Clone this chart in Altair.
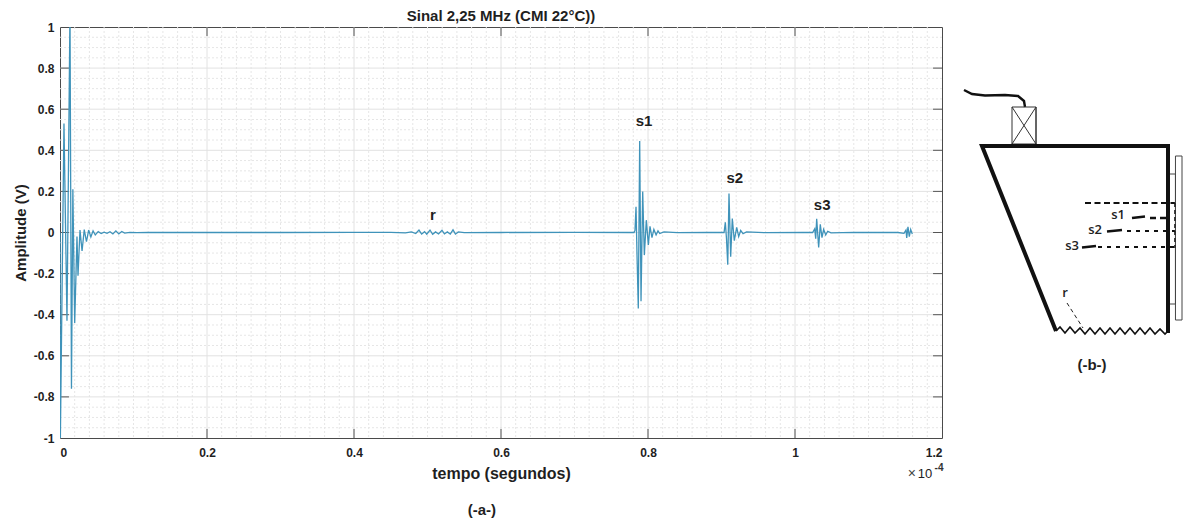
import altair as alt
import pandas as pd

FONT = "Liberation Sans"
TXT = "#1f1f1f"

# Signal: time in units of 1e-4 s, amplitude in V
t_burst = [0, 0.0005, 0.0054, 0.0095, 0.0136, 0.0156, 0.0175, 0.020, 0.0231, 0.0245, 0.0272, 0.030, 0.033, 0.036, 0.039, 0.042, 0.045, 0.048, 0.052, 0.056, 0.060, 0.064, 0.068, 0.072, 0.076, 0.080, 0.084, 0.088, 0.095, 0.105, 0.12]
a_burst = [0, -1.0, 0.53, -0.43, 1.08, -0.76, 0.21, -0.44, -0.02, -0.21, 0.012, -0.09, 0.014, -0.045, 0.012, -0.022, 0.008, -0.012, 0.004, -0.005, 0.002, -0.004, 0.004, -0.007, 0.008, -0.007, 0.005, -0.003, 0.001, -0.001, 0]
t_r = [0.30, 0.40, 0.45, 0.47, 0.478, 0.484, 0.4884, 0.492, 0.496, 0.499, 0.5034, 0.507, 0.511, 0.515, 0.5197, 0.523, 0.527, 0.531, 0.5347, 0.538, 0.542, 0.55, 0.60, 0.70, 0.775]
a_r = [0, 0.0005, 0.001, -0.002, 0.003, -0.005, 0.012, -0.008, 0.004, -0.008, 0.012, -0.009, 0.003, -0.007, 0.011, -0.007, 0.003, -0.008, 0.013, -0.008, 0.003, -0.001, 0, 0.001, 0]
t_s1 = [0.781, 0.7823, 0.7837, 0.785, 0.7868, 0.7887, 0.7905, 0.7928, 0.795, 0.7977, 0.8005, 0.8027, 0.8054, 0.808, 0.811, 0.8136, 0.816, 0.8218, 0.84, 0.88, 0.90]
a_s1 = [0, 0.01, 0.125, -0.1, -0.37, 0.445, -0.335, 0.2, -0.11, 0.06, -0.06, 0.03, -0.025, 0.015, -0.012, 0.008, -0.005, 0.003, -0.001, 0.001, 0]
t_s2 = [0.9035, 0.9052, 0.9068, 0.9085, 0.9102, 0.9125, 0.9147, 0.9174, 0.9207, 0.9234, 0.9261, 0.9293, 0.934, 0.96, 1.01, 1.024]
a_s2 = [0, 0.05, -0.03, -0.157, 0.19, -0.118, 0.068, -0.04, 0.025, -0.02, 0.01, -0.006, 0.003, -0.001, 0.001, 0]
t_s3 = [1.0268, 1.0282, 1.0295, 1.0322, 1.0344, 1.0367, 1.039, 1.0418, 1.0445, 1.049, 1.08, 1.14]
a_s3 = [0.018, -0.03, 0.067, -0.073, 0.04, -0.025, 0.015, -0.012, 0.006, -0.002, 0.001, 0]
t_end = [1.1483, 1.151, 1.152, 1.1537, 1.1555, 1.1574, 1.1596]
a_end = [-0.004, 0.012, -0.026, 0.028, -0.02, 0.015, -0.008]

signal = pd.DataFrame({
    "t": t_burst + t_r + t_s1 + t_s2 + t_s3 + t_end,
    "a": a_burst + a_r + a_s1 + a_s2 + a_s3 + a_end,
})
signal["i"] = range(len(signal))

x_major = [0, 0.2, 0.4, 0.6, 0.8, 1.0, 1.2]
y_major = [-1, -0.8, -0.6, -0.4, -0.2, 0, 0.2, 0.4, 0.6, 0.8, 1]
x_minor = [round(i * 0.02, 2) for i in range(61) if i % 10]
y_minor = [round(-1 + i * 0.05, 2) for i in range(41) if i % 4]

# Annotations in data units
note_text = ["r", "s1", "s2", "s3"]
note_x = [0.5075, 0.7946, 0.918, 1.037]
note_y = [0.086, 0.543, 0.266, 0.135]

X = alt.Scale(domain=[0, 1.2], nice=False, zero=False)
Y = alt.Scale(domain=[-1, 1], nice=False, zero=False)

def vrules(vals, color, width, dash=None):
    kw = dict(color=color, strokeWidth=width)
    if dash:
        kw["strokeDash"] = dash
    return alt.Chart(pd.DataFrame({"t": vals})).mark_rule(**kw).encode(
        x=alt.X("t:Q", scale=X)
    )

def hrules(vals, color, width, dash=None):
    kw = dict(color=color, strokeWidth=width)
    if dash:
        kw["strokeDash"] = dash
    return alt.Chart(pd.DataFrame({"a": vals})).mark_rule(**kw).encode(
        y=alt.Y("a:Q", scale=Y)
    )

axes = alt.Chart(pd.DataFrame({"t": [0], "a": [0]})).mark_point(opacity=0).encode(
    x=alt.X("t:Q", scale=X, title="tempo (segundos)",
            axis=alt.Axis(values=x_major, grid=False, ticks=False, domain=False,
                          labelExpr="'' + datum.value", labelFont=FONT, labelFontWeight="bold",
                          labelFontSize=12, labelColor=TXT, labelPadding=9,
                          titleFont=FONT, titleFontWeight="bold", titleFontSize=16,
                          titleColor=TXT, titlePadding=7)),
    y=alt.Y("a:Q", scale=Y, title="Amplitude (V)",
            axis=alt.Axis(values=y_major, grid=False, ticks=False, domain=False,
                          labelExpr="'' + datum.value", labelFont=FONT, labelFontWeight="bold",
                          labelFontSize=12, labelColor=TXT, labelPadding=6,
                          titleFont=FONT, titleFontWeight="bold", titleFontSize=15,
                          titleColor=TXT, titlePadding=5)),
)

def xticks(v0, v1):
    d = pd.DataFrame({"t": x_major[1:-1], "y0": v0, "y1": v1})
    return alt.Chart(d).mark_rule(color="#555555", strokeWidth=1).encode(
        x=alt.X("t:Q", scale=X), y=alt.Y("y0:Q", scale=Y), y2="y1:Q")

def yticks(v0, v1):
    d = pd.DataFrame({"a": y_major[1:-1], "x0": v0, "x1": v1})
    return alt.Chart(d).mark_rule(color="#555555", strokeWidth=1).encode(
        y=alt.Y("a:Q", scale=Y), x=alt.X("x0:Q", scale=X), x2="x1:Q")

line = alt.Chart(signal).mark_line(color="#3f93ba", strokeWidth=1.3, clip=True).encode(
    x=alt.X("t:Q", scale=X), y=alt.Y("a:Q", scale=Y), order="i:Q"
)

notes = alt.Chart(pd.DataFrame({"s": note_text, "t": note_x, "a": note_y})).mark_text(
    font=FONT, fontWeight="bold", fontSize=15, color=TXT
).encode(x=alt.X("t:Q", scale=X), y=alt.Y("a:Q", scale=Y), text="s:N")

def outer(s, t, a, size, weight="bold", color=TXT, align="center"):
    return alt.Chart(pd.DataFrame({"s": [s], "t": [t], "a": [a]})).mark_text(
        font=FONT, fontWeight=weight, fontSize=size, color=color, align=align
    ).encode(x=alt.X("t:Q", scale=X), y=alt.Y("a:Q", scale=Y), text="s:N")

panel_a = alt.layer(
    axes,
    vrules(x_minor, "#e6e6e6", 1, [2, 2]),
    hrules(y_minor, "#e6e6e6", 1, [2, 2]),
    vrules(x_major[1:-1], "#e2e2e2", 1),
    hrules(y_major[1:-1], "#e2e2e2", 1),
    xticks(-1, -0.956), xticks(1, 0.956),
    yticks(0, 0.0122), yticks(1.2, 1.1878),
    line, notes,
    outer("Sinal 2,25 MHz (CMI 22°C))", 0.6, 1.054, 15),
    outer("×", 1.159, -1.175, 14, "normal", "#444444"),
    outer("10", 1.177, -1.175, 13, "normal", "#222222"),
    outer("-4", 1.196, -1.145, 10, "bold", "#333333"),
    outer("(-a-)", 0.574, -1.348, 15),
).properties(
    width=882, height=411,
    view=alt.ViewConfig(stroke="#4a4a4a", strokeWidth=1),
)

# Schematic (-b-), outlined on its own 950-1192 / 26-437 grid
cable_x = [964, 972, 985, 1005, 1018, 1024, 1025]
cable_y = [89, 93, 94.5, 94, 95, 100, 106]
probe_x = [1012, 1036, 1036, 1012, 1012, 1036, 1036, 1012]
probe_y = [106, 106, 143, 143, 106, 143, 106, 143]
body_x = [1056, 982, 1168, 1168]
body_y = [330, 145, 145, 332]
zig_x = [1056, 1060, 1065, 1070, 1075, 1080, 1085, 1090, 1095, 1100, 1105, 1110, 1115, 1120, 1125, 1130, 1135, 1140, 1145, 1150, 1155, 1160, 1165, 1168]
zig_y = [330, 326, 332, 326, 332, 327, 333, 327, 333, 327, 333, 327, 333, 327, 333, 327, 333, 327, 333, 327, 333, 328, 333, 330]
plate_x = [1170, 1180, 1180, 1170]
plate_y = [173, 173, 303, 303]
outer_x = [1192, 1180, 1180, 1192, 1192]
outer_y = [155, 155, 319, 319, 155]
ref_x = [1179, 1179]
ref_y = [202, 247]
r_x = [1067, 1083]
r_y = [302, 327]
d0_x, d0_y = [1085, 1179], [202, 202]
d1_x, d1_y = [1150, 1167], [217, 217]
d2_x, d2_y = [1127, 1179], [230, 230]
d3_x, d3_y = [1098, 1179], [246, 246]
arrow_x = [[1132, 1145], [1107, 1122], [1082, 1096]]
arrow_y = [[217, 215.5], [230.5, 229], [246.5, 245]]
lab_s = ["s1", "s2", "s3", "r"]
lab_x = [1118, 1095, 1072, 1065]
lab_y = [214, 229, 245, 292]

BX = alt.Scale(domain=[950, 1170, 1192], range=[0, 220, 232], nice=False, zero=False)
BY = alt.Scale(domain=[437, 26], nice=False, zero=False)

def path(xs, ys, width, color="#111111", dash=None):
    d = pd.DataFrame({"x": xs, "y": ys, "i": range(len(xs))})
    kw = dict(color=color, strokeWidth=width, clip=False)
    if dash:
        kw["strokeDash"] = dash
    return alt.Chart(d).mark_line(**kw).encode(
        x=alt.X("x:Q", scale=BX, axis=None),
        y=alt.Y("y:Q", scale=BY, axis=None),
        order="i:Q",
    )

labels_b = alt.Chart(pd.DataFrame({"s": lab_s, "x": lab_x, "y": lab_y})).mark_text(
    font="Open Sans", fontSize=13, fontWeight=600, color="#222222"
).encode(x=alt.X("x:Q", scale=BX, axis=None), y=alt.Y("y:Q", scale=BY, axis=None), text="s:N")

cap_b = alt.Chart(pd.DataFrame({"s": ["(-b-)"], "x": [1092], "y": [364]})).mark_text(
    font=FONT, fontSize=15, fontWeight="bold", color=TXT
).encode(x=alt.X("x:Q", scale=BX, axis=None), y=alt.Y("y:Q", scale=BY, axis=None), text="s:N")

panel_b = alt.layer(
    path(cable_x, cable_y, 2.4),
    path(probe_x, probe_y, 1, "#333333"),
    path(plate_x, plate_y, 1, "#444444"),
    path(outer_x, outer_y, 1, "#444444"),
    path(ref_x, ref_y, 1.5, "#222222", [4, 3]),
    path(r_x, r_y, 1, "#222222", [4, 3]),
    path(d0_x, d0_y, 1.8, "#111111", [6, 3.5]),
    path(d1_x, d1_y, 2.4, "#111111", [6, 4]),
    path(d2_x, d2_y, 1.8, "#111111", [4, 5]),
    path(d3_x, d3_y, 1.8, "#111111", [4, 5]),
    path(arrow_x[0], arrow_y[0], 2.6),
    path(arrow_x[1], arrow_y[1], 2.6),
    path(arrow_x[2], arrow_y[2], 2.6),
    path(body_x, body_y, 4),
    path(zig_x, zig_y, 1.6),
    labels_b, cap_b,
).properties(width=232, height=411, view=alt.ViewConfig(stroke=None))

chart = alt.hconcat(panel_a, panel_b, spacing=5).properties(
    padding={"left": 4, "top": 0, "right": 0, "bottom": 0}, background="white"
)

chart.save("out.html", embed_options={"renderer": "svg", "actions": False})
